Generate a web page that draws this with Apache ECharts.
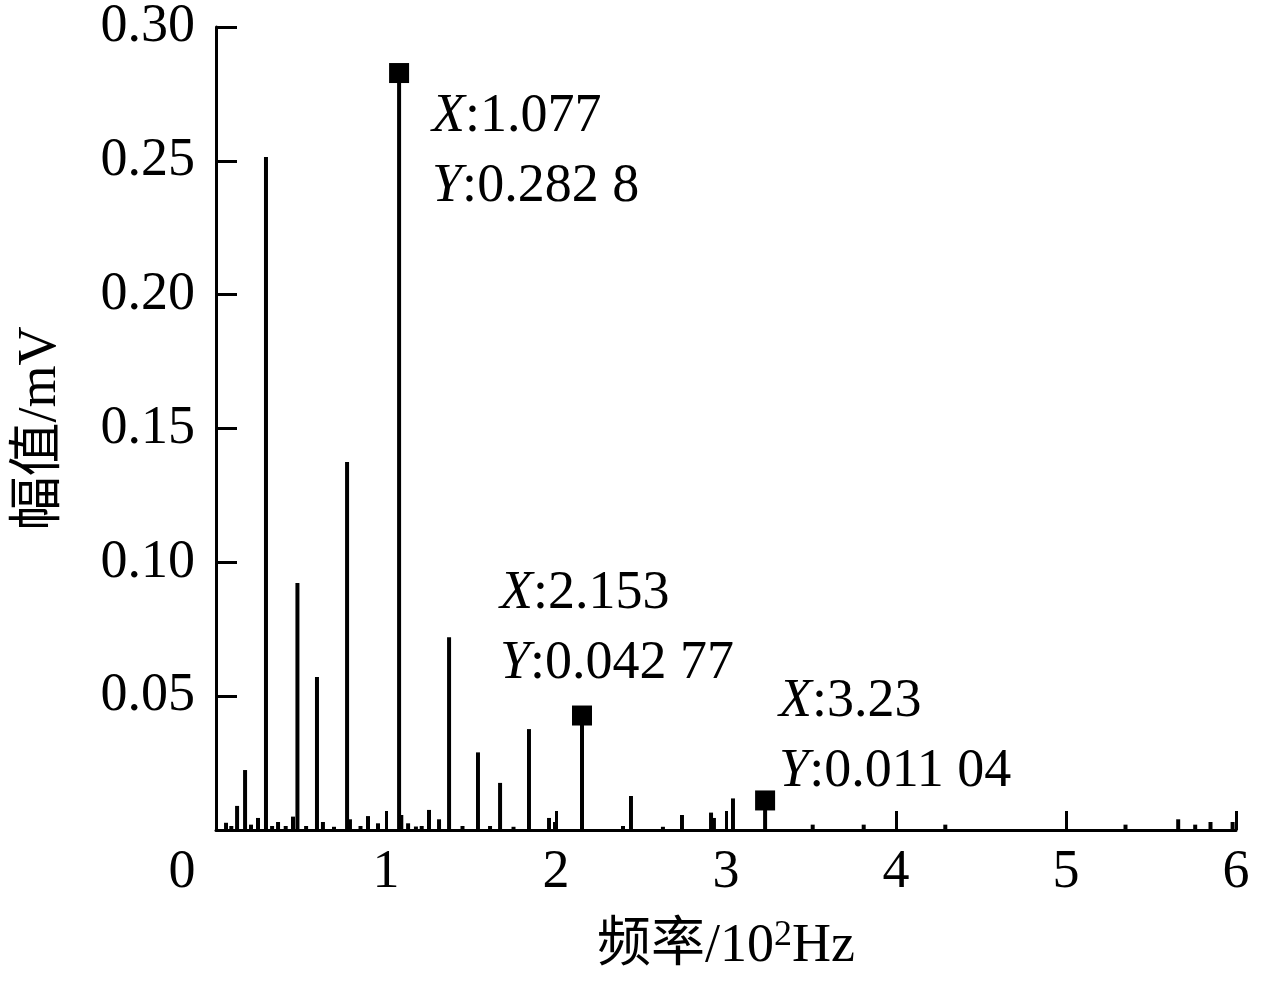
<!DOCTYPE html>
<html>
<head>
<meta charset="utf-8">
<script src="https://cdn.jsdelivr.net/npm/echarts@6/dist/echarts.min.js"></script>
<style>html,body{margin:0;padding:0;background:#fff;}#c{width:1269px;height:985px;}</style>
</head>
<body>
<div id="c"></div>
<script>
// Spectrum spikes: frequency (10^2 Hz) and amplitude (mV)
const freqs = [0.059,0.090,0.124,0.171,0.206,0.247,0.294,0.330,0.365,0.410,0.453,0.479,0.530,0.594,0.629,0.694,0.771,0.788,0.850,0.894,0.953,
  1.077,1.090,1.130,1.176,1.210,1.253,1.312,1.371,1.450,1.541,1.612,1.671,1.750,1.841,1.959,1.994,
  2.153,2.394,2.441,2.629,2.741,2.912,2.929,3.041,3.230,3.510,3.810,4.290,5.350,5.660,5.760,5.850,5.980];
const amps  = [0.0027,0.0015,0.0090,0.0224,0.0020,0.0045,0.2514,0.0015,0.0030,0.0015,0.0050,0.0923,0.0015,0.0572,0.0030,0.0012,0.1375,0.0040,0.0015,0.0052,0.0025,
  0.2828,0.0056,0.0025,0.0013,0.0015,0.0075,0.0040,0.0720,0.0015,0.0290,0.0015,0.0176,0.0012,0.0377,0.0045,0.0030,
  0.04277,0.0015,0.0127,0.0012,0.0056,0.0065,0.0045,0.0118,0.01104,0.0020,0.0020,0.0020,0.0020,0.0040,0.0020,0.0030,0.0030];
const peakX = [1.077, 2.153, 3.23];
const peakY = [0.2828, 0.04277, 0.01104];
const peakText = [["1.077","0.282 8"],["2.153","0.042 77"],["3.23","0.011 04"]];
const xTicks = [0,1,2,3,4,5,6];
const yTicks = ["0.05","0.10","0.15","0.20","0.25","0.30"];

const FONT = '"Liberation Serif","Noto Sans CJK SC",serif';
const FS = 54;
const labelPos = [[43,19],[-72,-147],[24,-124]];

const chart = echarts.init(document.getElementById('c'));
chart.setOption({
  animation:false,
  backgroundColor:'#fff',
  grid:{left:216, top:27, right:33, bottom:155},
  xAxis:{
    type:'value', min:0, max:6, interval:1,
    name:'{n|频率/10}{s|2}{n|Hz}', nameLocation:'middle', nameGap:88,
    nameTextStyle:{fontFamily:FONT, fontSize:FS, color:'#000',
      rich:{n:{fontFamily:FONT, fontSize:FS, color:'#000'},
            s:{fontFamily:FONT, fontSize:36, color:'#000', padding:[0,0,22,0]}}},
    axisLine:{show:true, lineStyle:{color:'#000', width:3}},
    axisTick:{show:true, inside:true, length:19, lineStyle:{color:'#000', width:3}},
    splitLine:{show:false},
    axisLabel:{
      fontFamily:FONT, fontSize:FS, color:'#000', margin:16,
      formatter:function(v){ return v===0 ? '{z|0}' : String(v); },
      rich:{z:{fontFamily:FONT, fontSize:FS, color:'#000', padding:[0,68,0,0]}}
    }
  },
  yAxis:{
    type:'value', min:0, max:0.30, interval:0.05,
    name:'幅值/mV', nameLocation:'middle', nameGap:148, nameRotate:90,
    nameTextStyle:{fontFamily:FONT, fontSize:FS, color:'#000'},
    axisLine:{show:true, lineStyle:{color:'#000', width:3}},
    axisTick:{show:true, inside:true, length:21, lineStyle:{color:'#000', width:3}},
    splitLine:{show:false},
    axisLabel:{
      fontFamily:FONT, fontSize:FS, color:'#000', margin:21,
      formatter:function(v){ const s=v.toFixed(2); return yTicks.indexOf(s)>=0 ? s : ''; }
    }
  },
  series:[{
    type:'bar',
    barWidth:4,
    itemStyle:{color:'#000'},
    data:freqs.map((f,i)=>[f,amps[i]]),
    markPoint:{
      symbol:'rect', symbolSize:20,
      itemStyle:{color:'#000'},
      data:peakX.map((x,i)=>({
        coord:[x,peakY[i]],
        label:{
          show:true,
          position:labelPos[i],
          align:'left', verticalAlign:'top',
          formatter:'{i|X}:'+peakText[i][0]+'\n{i|Y}:'+peakText[i][1],
          fontFamily:FONT, fontSize:FS, color:'#000', lineHeight:70,
          rich:{i:{fontFamily:FONT, fontSize:FS, fontStyle:'italic', color:'#000', lineHeight:70}}
        }
      }))
    }
  }]
});
</script>
</body>
</html>
